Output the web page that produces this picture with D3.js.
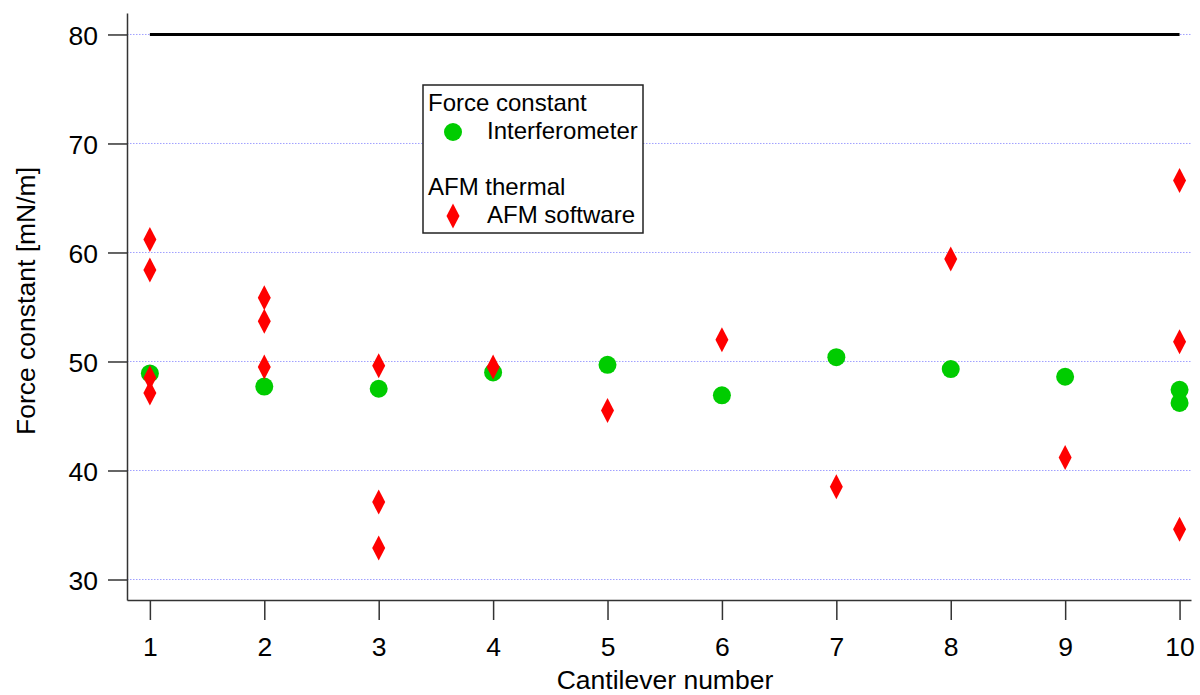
<!DOCTYPE html>
<html>
<head>
<meta charset="utf-8">
<script src="https://cdn.jsdelivr.net/npm/d3@7"></script>
<style>
  html, body { margin: 0; padding: 0; background: #fff; }
  svg { display: block; font-family: "Liberation Sans", Arial, Helvetica, sans-serif; }
</style>
</head>
<body>
<svg id="chart" width="1200" height="695"></svg>
<script>
// Cantilever numbers on the x axis
const cantilevers = [1, 2, 3, 4, 5, 6, 7, 8, 9, 10];
const yTicks = [30, 40, 50, 60, 70, 80];

// Interferometer measurements: [cantilever, force constant mN/m]
const interferometer = [
  [1, 48.9], [2, 47.7], [3, 47.5], [4, 49.0], [5, 49.7],
  [6, 46.9], [7, 50.4], [8, 49.3], [9, 48.6], [10, 47.4], [10, 46.2]
];

// AFM software (thermal) measurements: [cantilever, force constant mN/m]
const afmSoftware = [
  [1, 61.2], [1, 58.4], [1, 48.5], [1, 47.1],
  [2, 55.85], [2, 53.7], [2, 49.5],
  [3, 49.6], [3, 37.1], [3, 32.9],
  [4, 49.5],
  [5, 45.5],
  [6, 52.0],
  [7, 38.5],
  [8, 59.4],
  [9, 41.2],
  [10, 66.6], [10, 51.8], [10, 34.6]
];

// Nominal force constant line
const nominal = [[1, 80], [10, 80]];

const svg = d3.select("#chart");
const plotLeft = 127, plotRight = 1191, plotTop = 13, plotBottom = 600;

const x = d3.scaleLinear().domain([0.8, 10.1]).range([plotLeft, plotRight]);
const y = d3.scaleLinear().domain([28.12, 81.97]).range([plotBottom, plotTop]);

// Dotted horizontal grid
svg.append("g")
  .selectAll("line")
  .data(yTicks)
  .join("line")
  .attr("x1", plotLeft).attr("x2", plotRight)
  .attr("y1", d => y(d)).attr("y2", d => y(d))
  .attr("stroke", "#a0a0ff")
  .attr("stroke-width", 1)
  .attr("stroke-dasharray", "1.5,1.5");

// Nominal value line
svg.append("path")
  .datum(nominal)
  .attr("d", d3.line().x(d => x(d[0])).y(d => y(d[1])))
  .attr("stroke", "#000")
  .attr("stroke-width", 3)
  .attr("fill", "none");

// Axes
const axisColor = "#333";
const yAxis = svg.append("g")
  .attr("transform", `translate(${plotLeft},0)`)
  .call(d3.axisLeft(y).tickValues(yTicks).tickSize(19).tickPadding(10).tickSizeOuter(0));
const xAxis = svg.append("g")
  .attr("transform", `translate(0,${plotBottom})`)
  .call(d3.axisBottom(x).tickValues(cantilevers).tickSize(20).tickSizeOuter(0));

[yAxis, xAxis].forEach(g => {
  g.select(".domain").attr("stroke", axisColor).attr("stroke-width", 1.5);
  g.selectAll(".tick line").attr("stroke", axisColor).attr("stroke-width", 1.5);
  g.selectAll(".tick text")
    .attr("fill", "#000")
    .attr("font-size", 26.5)
    .attr("font-family", "Liberation Sans, Arial, sans-serif");
});
yAxis.selectAll(".tick text").attr("dy", "0.36em");
xAxis.selectAll(".tick text").attr("y", 56).attr("dy", null);

// Axis titles
svg.append("text")
  .attr("x", 665)
  .attr("y", 689)
  .attr("text-anchor", "middle")
  .attr("font-size", 26.5)
  .text("Cantilever number");

svg.append("text")
  .attr("transform", "translate(35,301) rotate(-90)")
  .attr("text-anchor", "middle")
  .attr("font-size", 26.5)
  .text("Force constant [mN/m]");

// Marker shapes
const diamond = (cx, cy) =>
  `M${cx},${cy - 12.5}L${cx + 6.5},${cy}L${cx},${cy + 12.5}L${cx - 6.5},${cy}Z`;

svg.append("g")
  .selectAll("circle")
  .data(interferometer)
  .join("circle")
  .attr("cx", d => x(d[0]))
  .attr("cy", d => y(d[1]))
  .attr("r", 9)
  .attr("fill", "#00cc00");

svg.append("g")
  .selectAll("path")
  .data(afmSoftware)
  .join("path")
  .attr("d", d => diamond(x(d[0]), y(d[1])))
  .attr("fill", "#ff0000");

// Legend
const lg = svg.append("g").attr("font-size", 24);
lg.append("rect")
  .attr("x", 423).attr("y", 85)
  .attr("width", 220).attr("height", 148)
  .attr("fill", "#fff")
  .attr("stroke", "#222")
  .attr("stroke-width", 1.5);
lg.append("text").attr("x", 428).attr("y", 111).text("Force constant");
lg.append("circle").attr("cx", 453).attr("cy", 132).attr("r", 9).attr("fill", "#00cc00");
lg.append("text").attr("x", 487).attr("y", 139).text("Interferometer");
lg.append("text").attr("x", 428).attr("y", 195).text("AFM thermal");
lg.append("path").attr("d", diamond(453, 216)).attr("fill", "#ff0000");
lg.append("text").attr("x", 487).attr("y", 223).text("AFM software");
</script>
</body>
</html>
